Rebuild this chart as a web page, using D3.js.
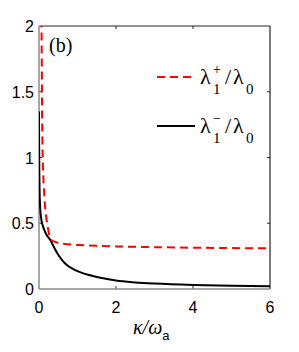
<!DOCTYPE html>
<html>
<head>
<meta charset="utf-8">
<script src="https://cdn.jsdelivr.net/npm/d3@7"></script>
<style>
  body { margin: 0; background: #fff; }
  text { fill: #000; }
</style>
</head>
<body>
<svg id="chart" width="299" height="352"></svg>
<script>
const width = 299;
const height = 352;
const margin = { top: 26, right: 29, bottom: 63, left: 39 };

const xTicks = [0, 2, 4, 6];
const yTicks = [0, 0.5, 1, 1.5, 2];
const yTickLabels = ["0", "0.5", "1", "1.5", "2"];

// λ1+/λ0 (red dashed)
const plusKappa = [0.065, 0.075, 0.085, 0.1, 0.13, 0.16, 0.2, 0.24, 0.28, 0.33, 0.45, 0.6, 1, 1.5, 2, 3, 4, 5, 6];
const plusVal   = [2.05, 1.6, 1.2, 0.95, 0.75, 0.62, 0.52, 0.45, 0.4, 0.37, 0.355, 0.345, 0.335, 0.328, 0.324, 0.318, 0.314, 0.311, 0.309];

// λ1-/λ0 (black solid)
const minusKappa = [0, 0.003, 0.008, 0.015, 0.03, 0.06, 0.1, 0.15, 0.2, 0.25, 0.3, 0.35, 0.42, 0.5, 0.6, 0.73, 0.9, 1.1, 1.3, 1.6, 2, 2.5, 3, 4, 5, 6];
const minusVal   = [1.35, 1.1, 0.9, 0.75, 0.62, 0.53, 0.48, 0.44, 0.41, 0.39, 0.37, 0.34, 0.3, 0.26, 0.22, 0.18, 0.15, 0.125, 0.106, 0.085, 0.064, 0.05, 0.041, 0.03, 0.024, 0.021];

const sans = "'Liberation Sans', Arial, sans-serif";
const serif = "'Liberation Serif', 'Times New Roman', serif";

const svg = d3.select('#chart');
const x = d3.scaleLinear().domain([0, 6]).range([margin.left, width - margin.right]);
const y = d3.scaleLinear().domain([0, 2]).range([height - margin.bottom, margin.top]);

svg.append('defs').append('clipPath').attr('id', 'clip')
  .append('rect')
  .attr('x', margin.left).attr('y', margin.top)
  .attr('width', x(6) - x(0)).attr('height', y(0) - y(2));

// axes box
svg.append('line').attr('x1', x(0)).attr('x2', x(6)).attr('y1', y(2)).attr('y2', y(2))
  .attr('stroke', '#262626').attr('stroke-width', 1.2);
svg.append('line').attr('x1', x(6)).attr('x2', x(6)).attr('y1', y(0)).attr('y2', y(2))
  .attr('stroke', '#262626').attr('stroke-width', 1.2);

// ticks inward on all sides
xTicks.slice(1, -1).forEach(t => {
  svg.append('line').attr('x1', x(t)).attr('x2', x(t)).attr('y1', y(0)).attr('y2', y(0) - 3)
    .attr('stroke', '#262626');
  svg.append('line').attr('x1', x(t)).attr('x2', x(t)).attr('y1', y(2)).attr('y2', y(2) + 3)
    .attr('stroke', '#262626');
});
yTicks.slice(1, -1).forEach(t => {
  svg.append('line').attr('x1', x(0)).attr('x2', x(0) + 3).attr('y1', y(t)).attr('y2', y(t))
    .attr('stroke', '#262626');
  svg.append('line').attr('x1', x(6)).attr('x2', x(6) - 3).attr('y1', y(t)).attr('y2', y(t))
    .attr('stroke', '#262626');
});

// left and bottom axis lines (gray)
svg.append('line').attr('x1', x(0)).attr('x2', x(0)).attr('y1', y(0)).attr('y2', y(2))
  .attr('stroke', '#8a8a8a').attr('stroke-width', 1.5);
svg.append('line').attr('x1', x(0)).attr('x2', x(6)).attr('y1', y(0)).attr('y2', y(0))
  .attr('stroke', '#8a8a8a').attr('stroke-width', 1.5);

// tick labels
svg.append('g').selectAll('text').data(xTicks).enter().append('text')
  .attr('x', d => x(d)).attr('y', y(0) + 24)
  .attr('text-anchor', 'middle')
  .style('font-family', sans).style('font-size', '16px')
  .text(d => d);
svg.append('g').selectAll('text').data(yTicks).enter().append('text')
  .attr('x', x(0) - 5).attr('y', d => y(d) + 6)
  .attr('text-anchor', 'end')
  .style('font-family', sans).style('font-size', '16px')
  .text((d, i) => yTickLabels[i]);

// curves
const plot = svg.append('g').attr('clip-path', 'url(#clip)');
plot.append('path')
  .datum(minusKappa.map((k, i) => [k, minusVal[i]]))
  .attr('d', d3.line().x(d => x(d[0])).y(d => y(d[1])).curve(d3.curveMonotoneX))
  .attr('fill', 'none').attr('stroke', '#000').attr('stroke-width', 2);
plot.append('path')
  .datum(plusKappa.map((k, i) => [k, plusVal[i]]))
  .attr('d', d3.line().x(d => x(d[0])).y(d => y(d[1])).curve(d3.curveMonotoneY))
  .attr('fill', 'none').attr('stroke', '#ff0000').attr('stroke-width', 2)
  .attr('stroke-dasharray', '8,5');

// panel label
svg.append('text').attr('x', 49).attr('y', 52)
  .style('font-family', serif).style('font-size', '20px')
  .text('(b)');

// legend
function legendEntry(yPos, sup, color, dash) {
  svg.append('line').attr('x1', 157).attr('x2', 195).attr('y1', yPos).attr('y2', yPos)
    .attr('stroke', color).attr('stroke-width', 2)
    .attr('stroke-dasharray', dash);
  const g = svg.append('g').style('font-family', serif);
  g.append('text').attr('x', 200).attr('y', yPos + 7).style('font-size', '22px').text('λ');
  g.append('text').attr('x', 213).attr('y', yPos - 3).style('font-size', '14px').text(sup);
  g.append('text').attr('x', 213).attr('y', yPos + 17).style('font-size', '15px').text('1');
  g.append('text').attr('x', 225).attr('y', yPos + 7).style('font-size', '22px').text('/');
  g.append('text').attr('x', 233).attr('y', yPos + 7).style('font-size', '22px').text('λ');
  g.append('text').attr('x', 246).attr('y', yPos + 17).style('font-size', '15px').text('0');
}
legendEntry(77, '+', '#ff0000', '8,5');
legendEntry(126, '−', '#000', null);

// x axis label
const xl = svg.append('text').attr('x', 133).attr('y', 334)
  .style('font-family', serif).style('font-size', '20px');
xl.append('tspan').style('font-style', 'italic').text('κ/ω');
xl.append('tspan').attr('dy', 6).style('font-family', sans)
  .style('font-size', '13px').text('a');
</script>
</body>
</html>
